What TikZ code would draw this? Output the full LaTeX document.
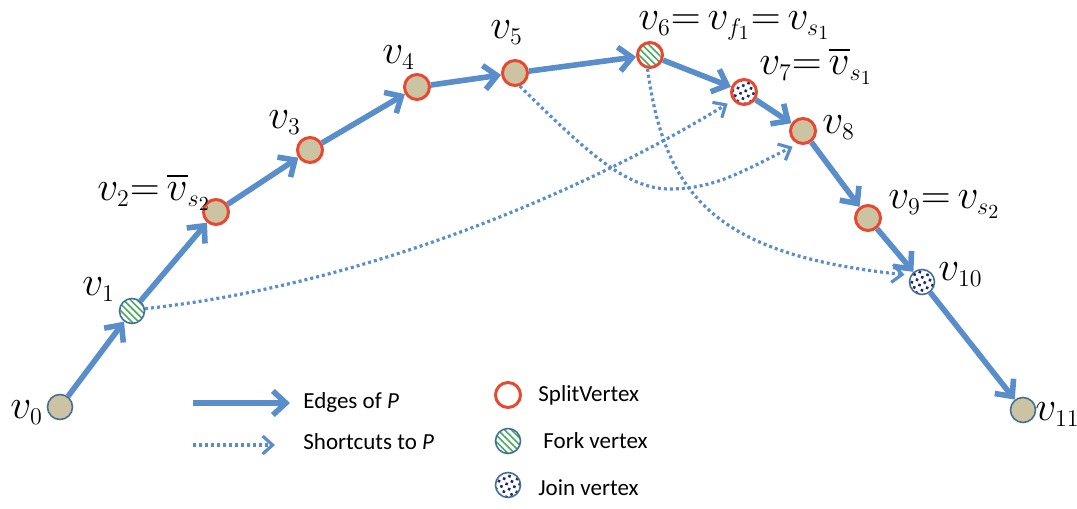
\documentclass[tikz,border=0pt]{standalone}
\usepackage{amsmath, amssymb}
\usepackage{fontspec}
\usepackage{xcolor}
\usepackage{tikz}
\usetikzlibrary{arrows.meta, patterns, patterns.meta, positioning}

\newfontfamily\legendfont{Carlito}
\DeclareMathSizes{22}{22}{13}{10}

\definecolor{pathblue}{RGB}{90,142,202}
\definecolor{vtan}{RGB}{203,195,162}
\definecolor{vrim}{RGB}{70,110,150}
\definecolor{splitred}{RGB}{233,72,48}
\definecolor{forkgreen}{RGB}{72,170,96}
\definecolor{joinblue}{RGB}{22,42,112}

\begin{document}
\begin{tikzpicture}[x=0.5pt, y=-0.5pt,
    vtx/.style={circle, minimum size=12.5pt, inner sep=0pt, fill=vtan, draw=vrim, line width=0.8pt},
    splitv/.style={vtx, draw=splitred, line width=1.5pt},
    forkv/.style={preaction={fill=white}, pattern={Lines[angle=-45,distance=2.4pt,line width=0.8pt]}, pattern color=forkgreen},
    joinv/.style={preaction={fill=white}, pattern={Dots[distance=2.9pt,radius=0.9pt,angle=25]}, pattern color=joinblue},
    pathedge/.style={draw=pathblue, line width=2.8pt, -{Straight Barb[length=6.5pt,width=12pt]}},
    shortcut/.style={draw=pathblue, line width=1.6pt, dash pattern=on 1.5pt off 1.5pt, -{Straight Barb[length=5pt,width=9pt,line width=1.6pt]}, shorten >=3pt},
    lbl/.style={font=\fontsize{22}{26}\selectfont, inner sep=0pt, anchor=base west},
    key/.style={font=\legendfont\fontsize{11.5}{14}\selectfont, anchor=west, inner sep=0pt}]
    \useasboundingbox (0,0) rectangle (1077,509);

    % 1. Các đỉnh của P
    \node[vtx]           (v0)  at (60,407)  {};
    \node[vtx, forkv]    (v1)  at (132,311) {};
    \node[splitv]        (v2)  at (216,212) {};
    \node[splitv]        (v3)  at (310,150) {};
    \node[splitv]        (v4)  at (417,87)  {};
    \node[splitv]        (v5)  at (515,73)  {};
    \node[splitv, forkv] (v6)  at (650,55)  {};
    \node[splitv, joinv] (v7)  at (744,92)  {};
    \node[splitv]        (v8)  at (803,131) {};
    \node[splitv]        (v9)  at (868,218) {};
    \node[vtx, joinv]    (v10) at (922,282) {};
    \node[vtx]           (v11) at (1023,410) {};

    % 2. Cạnh của P
    \foreach \a/\b in {v0/v1, v1/v2, v2/v3, v3/v4, v4/v5, v5/v6, v6/v7, v7/v8, v8/v9, v9/v10, v10/v11} {
        \draw[pathedge] (\a) -- (\b);
    }

    % 3. Đường tắt
    \draw[shortcut] (v1.10) .. controls (380,283) and (600,182) .. (v7.217);
    \draw[shortcut] (v5.-70) .. controls (585,150) and (625,189) .. (670,189)
        .. controls (715,189) and (745,170) .. (v8.249);
    \draw[shortcut] (v6.-100) .. controls (665,200) and (720,255) .. (v10.150);

    % 4. Nhãn
    \node[lbl] (l0)  at (10,418)  {$v_0$};
    \node[lbl] (l1)  at (82,295)  {$v_1$};
    \node[lbl] (l2)  at (97,200)  {$v_2{=}\,\overline{v}_{s_2}$};
    \node[lbl] (l3)  at (268,128) {$v_3$};
    \node[lbl] (l4)  at (382,63)  {$v_4$};
    \node[lbl] (l5)  at (490,38)  {$v_5$};
    \node[lbl] (l6)  at (638,29)  {$v_6{=}\,v_{f_1}{=}\,v_{s_1}$};
    \node[lbl] (l7)  at (759,74)  {$v_7{=}\,\overline{v}_{s_1}$};
    \node[lbl] (l8)  at (822,133) {$v_8$};
    \node[lbl] (l9)  at (888,208) {$v_9{=}\,v_{s_2}$};
    \node[lbl] (l10) at (938,280) {$v_{10}$};
    \node[lbl] (l11) at (1035,420) {$v_{11}$};

    % 5. Chú thích
    \coordinate (ea) at (193,403);
    \coordinate (eb) at (290,403);
    \coordinate (sa) at (193,445);
    \coordinate (sb) at (275,445);
    \draw[pathedge] (ea) -- (eb);
    \draw[shortcut, shorten >=0pt] (sa) -- (sb);
    \node[key] (kedge) at (303,402) {Edges of \textit{P}};
    \node[key] (kshort) at (303,442) {Shortcuts to \textit{P}};
    \node[vtx, draw=splitred, line width=1.5pt, fill=white] (ksplit) at (508,395) {};
    \node[vtx, forkv] (kfork) at (508,441) {};
    \node[vtx, joinv] (kjoin) at (508,485) {};
    \node[key] (tsplit) at (538,395) {SplitVertex};
    \node[key] (tfork) at (543,441) {Fork vertex};
    \node[key] (tjoin) at (538,488) {Join vertex};
\end{tikzpicture}
\end{document}
